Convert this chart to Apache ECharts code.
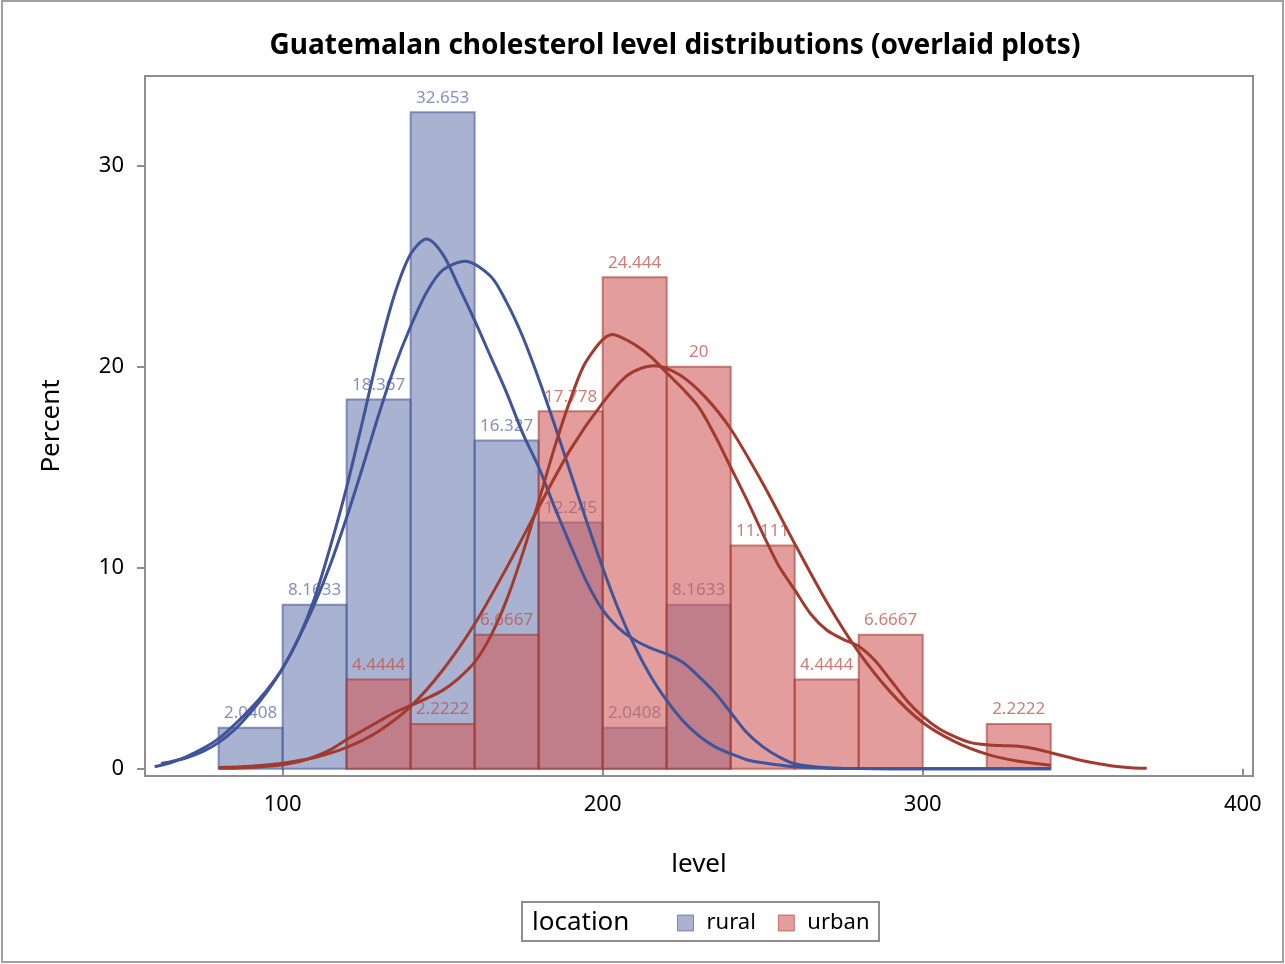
<!DOCTYPE html>
<html>
<head>
<meta charset="utf-8">
<script src="https://cdn.jsdelivr.net/npm/echarts@6/dist/echarts.min.js"></script>
<style>
  html, body { margin: 0; padding: 0; background: #fff; }
  #main { width: 1285px; height: 964px; }
</style>
</head>
<body>
<div id="main"></div>
<script>
// histogram bins (left edge, width 20)
var binStart = [80, 100, 120, 140, 160, 180, 200, 220, 240, 260, 280, 300, 320];
var binWidth = 20;
var ruralPct = [2.0408, 8.1633, 18.367, 32.653, 16.327, 12.245, 2.0408, 8.1633, 0, 0, 0, 0, 0];
var urbanPct = [0, 0, 4.4444, 2.2222, 6.6667, 17.778, 24.444, 20, 11.111, 4.4444, 6.6667, 0, 2.2222];

// density curves: [level, percent]
var ruralNormal = [[62, 0.25], [65, 0.35], [70, 0.55], [75, 0.85], [80, 1.3], [85, 1.95], [90, 2.8], [95, 3.8],
  [100, 5.0], [105, 6.5], [110, 8.2], [115, 10.2], [120, 12.5], [125, 15.0], [130, 17.6], [135, 20.0],
  [140, 22.0], [145, 23.7], [150, 24.8], [157, 25.25], [165, 24.5], [170, 23.2], [175, 21.5],
  [180, 19.4], [185, 17.1], [190, 14.7], [195, 12.3], [200, 10.0], [205, 7.9], [210, 6.1], [215, 4.6],
  [220, 3.4], [225, 2.4], [230, 1.65], [235, 1.1], [240, 0.75], [245, 0.45], [250, 0.3], [260, 0.1],
  [270, 0.03], [280, 0.01], [300, 0], [340, 0]];
var ruralKernel = [[60, 0.1], [65, 0.3], [70, 0.6], [75, 1.0], [80, 1.5], [85, 2.2], [90, 3.0], [95, 3.9],
  [100, 5.0], [105, 6.5], [110, 8.5], [115, 11.1], [120, 14.0], [125, 17.3], [130, 20.7], [135, 23.6],
  [140, 25.6], [145, 26.35], [150, 25.6], [155, 24.0], [160, 22.3], [165, 20.5], [170, 18.7], [175, 16.7],
  [180, 15.0], [185, 13.0], [190, 11.1], [195, 9.3], [200, 7.9], [205, 7.0], [210, 6.4], [215, 6.0],
  [220, 5.7], [225, 5.3], [230, 4.6], [235, 3.8], [240, 2.8], [245, 1.8], [250, 1.1], [255, 0.6],
  [260, 0.25], [270, 0.05], [280, 0.01], [300, 0], [340, 0]];
var urbanNormal = [[80, 0.06], [90, 0.13], [100, 0.28], [110, 0.56], [120, 1.06], [130, 1.87], [140, 3.1],
  [150, 4.9], [160, 7.2], [170, 10.0], [180, 13.0], [190, 15.9], [200, 18.2], [208, 19.6], [216, 20.05],
  [224, 19.6], [232, 18.5], [240, 16.9], [250, 14.2], [260, 11.2], [270, 8.3], [280, 5.8], [290, 3.8],
  [300, 2.3], [310, 1.35], [320, 0.73], [330, 0.37], [340, 0.18]];
var urbanKernel = [[80, 0.02], [85, 0.03], [90, 0.06], [95, 0.12], [100, 0.2], [105, 0.35], [110, 0.6],
  [115, 0.95], [120, 1.45], [125, 1.9], [130, 2.35], [135, 2.8], [140, 3.15], [145, 3.5], [150, 3.9],
  [155, 4.5], [160, 5.3], [165, 6.6], [170, 8.4], [175, 10.7], [180, 13.3], [185, 16.0], [190, 18.4],
  [195, 20.3], [203, 21.6], [210, 21.1], [215, 20.5], [220, 19.7], [225, 18.9], [230, 18.0], [235, 16.6],
  [240, 15.0], [245, 13.4], [250, 11.7], [255, 10.1], [260, 8.9], [265, 7.7], [270, 6.9], [275, 6.45],
  [280, 6.1], [285, 5.4], [290, 4.4], [295, 3.4], [300, 2.6], [305, 2.0], [310, 1.6], [315, 1.3],
  [320, 1.2], [325, 1.15], [330, 1.12], [335, 1.0], [340, 0.8], [345, 0.6], [350, 0.4], [355, 0.25],
  [360, 0.12], [365, 0.05], [370, 0.02]];

var xTicks = [100, 200, 300, 400];
var yTicks = [0, 10, 20, 30];

var FONT = '"Noto Sans", "Open Sans", sans-serif';
var blueLine = '#3F5499', redLine = '#A23A2E';

function barSeries(name, values, fill, edge, labelColor, z) {
  var data = [];
  binStart.forEach(function (s, i) {
    if (values[i] > 0) data.push([s, s + binWidth, values[i]]);
  });
  return {
    name: name,
    type: 'custom',
    z: z,
    itemStyle: { color: fill, borderColor: edge },
    data: data,
    encode: { x: [0, 1], y: 2 },
    renderItem: function (params, api) {
      var p0 = api.coord([api.value(0), api.value(2)]);
      var p1 = api.coord([api.value(1), 0]);
      return {
        type: 'group',
        children: [{
          type: 'rect',
          shape: { x: p0[0], y: p0[1], width: p1[0] - p0[0], height: p1[1] - p0[1] },
          style: { fill: fill, stroke: edge, lineWidth: 2 }
        }, {
          type: 'text',
          style: {
            x: (p0[0] + p1[0]) / 2, y: p0[1] - 6,
            text: String(api.value(2)),
            fill: labelColor,
            font: '17px ' + FONT,
            textAlign: 'center', textVerticalAlign: 'bottom'
          }
        }]
      };
    }
  };
}

function curve(name, data, color) {
  return {
    name: name, type: 'line', z: 10, data: data,
    showSymbol: false, smooth: 0.3, silent: true,
    lineStyle: { color: color, width: 3 }
  };
}

var myChart = echarts.init(document.getElementById('main'));
var option = {
  animation: false,
  backgroundColor: '#fff',
  grid: { left: 145, right: 32, top: 76, bottom: 188, show: true, borderColor: '#8e8e8e', borderWidth: 2 },
  xAxis: {
    type: 'value', min: 57, max: 403.2,
    name: 'level', nameLocation: 'middle', nameGap: 76,
    nameTextStyle: { fontSize: 26, color: '#000', fontFamily: FONT },
    axisLine: { show: false },
    axisTick: { show: true, length: 8, customValues: xTicks, lineStyle: { color: '#8e8e8e', width: 2 } },
    axisLabel: { customValues: xTicks, fontSize: 22, color: '#000', fontFamily: FONT, margin: 18 },
    splitLine: { show: false }
  },
  yAxis: {
    type: 'value', min: -0.36, max: 34.46,
    name: 'Percent', nameLocation: 'middle', nameGap: 80, nameRotate: 90,
    nameTextStyle: { fontSize: 26, color: '#000', fontFamily: FONT },
    axisLine: { show: false },
    axisTick: { show: true, length: 8, customValues: yTicks, lineStyle: { color: '#8e8e8e', width: 2 } },
    axisLabel: { customValues: yTicks, fontSize: 22, color: '#000', fontFamily: FONT, margin: 21 },
    splitLine: { show: false }
  },
  legend: {
    left: 672, top: 907,
    itemWidth: 16, itemHeight: 16, itemGap: 22,
    data: [
      { name: 'rural', icon: 'rect', itemStyle: { color: 'rgba(111,126,179,0.6)', borderColor: 'rgba(68,86,148,0.6)', borderWidth: 1 } },
      { name: 'urban', icon: 'rect', itemStyle: { color: 'rgba(208,91,91,0.6)', borderColor: 'rgba(162,58,46,0.6)', borderWidth: 1 } }
    ],
    textStyle: { fontSize: 22, color: '#000', fontFamily: FONT, padding: [0, 0, 0, 8] },
    selectedMode: false
  },
  graphic: [
    { type: 'rect', shape: { x: 2, y: 1, width: 1281, height: 961 }, style: { fill: null, stroke: '#a0a0a0', lineWidth: 2 }, silent: true },
    { type: 'text', style: { x: 675, y: 46, text: 'Guatemalan cholesterol level distributions (overlaid plots)',
        font: 'bold 28px ' + FONT, fill: '#000', textAlign: 'center', textVerticalAlign: 'middle' } },
    { type: 'rect', shape: { x: 522, y: 902, width: 357, height: 39 }, style: { fill: null, stroke: '#8e8e8e', lineWidth: 2 }, silent: true },
    { type: 'text', style: { x: 532, y: 923, text: 'location', font: '26px ' + FONT, fill: '#000', textVerticalAlign: 'middle' } }
  ],
  series: [
    barSeries('rural', ruralPct, 'rgba(111,126,179,0.6)', 'rgba(68,86,148,0.6)', 'rgba(111,126,179,0.85)', 2),
    barSeries('urban', urbanPct, 'rgba(208,91,91,0.6)', 'rgba(162,58,46,0.6)', 'rgba(190,80,75,0.75)', 3),
    curve('rural normal', ruralNormal, blueLine),
    curve('rural kernel', ruralKernel, blueLine),
    curve('urban normal', urbanNormal, redLine),
    curve('urban kernel', urbanKernel, redLine)
  ]
};
myChart.setOption(option);
</script>
</body>
</html>
